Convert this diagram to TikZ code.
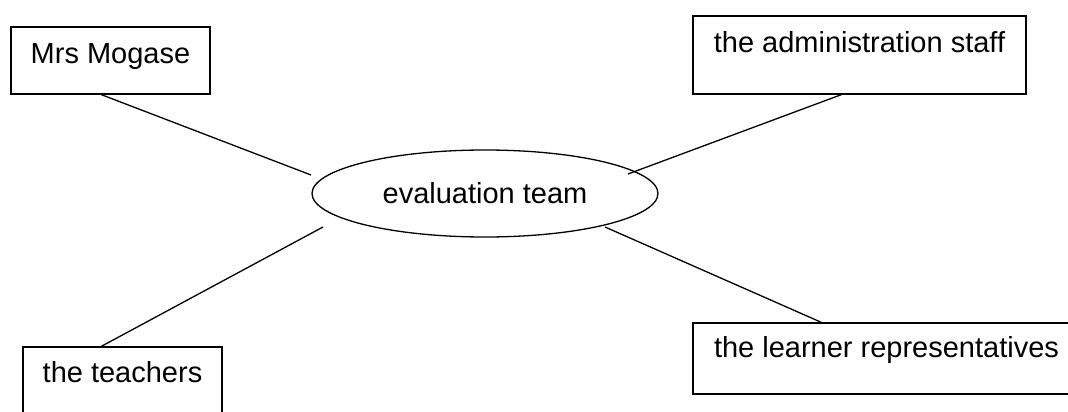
\documentclass[tikz,border=0pt]{standalone}
\usepackage{fontspec}
\setmainfont{Liberation Sans}
\usetikzlibrary{shapes.geometric,calc}
\tikzset{
  box/.style={draw, line width=1.3pt, rectangle, inner sep=0pt},
  lbl/.style={anchor=base, inner sep=0pt, font=\fontsize{29}{34}\selectfont},
  conn/.style={line width=1.3pt},
  ell/.style={draw, line width=1.3pt, ellipse, minimum width=346pt, minimum height=87pt, inner sep=0pt, font=\fontsize{29}{34}\selectfont}
}
\begin{document}
\begin{tikzpicture}[x=1pt,y=-1pt]
\useasboundingbox (0,0) rectangle (1068,412);
\clip (0,0) rectangle (1068,412);
\fill[white] (0,0) rectangle (1068,412);

\node[box, minimum width=199pt, minimum height=67pt] (mm) at (110.5,60.5) {};
\node[lbl] (mmt) at ($(mm.north)+(0,37)$) {Mrs Mogase};

\node[box, minimum width=333pt, minimum height=78pt] (adm) at (859.5,55) {};
\node[lbl] (admt) at ($(adm.north)+(0,37)$) {the administration staff};

\node[box, minimum width=199pt, minimum height=72pt] (tea) at (122.5,383) {};
\node[lbl] (teat) at ($(tea.north)+(0,36)$) {the teachers};

\node[box, minimum width=387pt, minimum height=71pt] (lrn) at (886.5,358.5) {};
\node[lbl] (lrnt) at ($(lrn.north)+(0,35)$) {the learner representatives};

\node[ell] (ev) at (485,193.5) {};
\node[lbl] (evt) at ($(ev.center)+(0,10)$) {evaluation team};

\coordinate (e1) at ($(ev.center)+(-174,-18.5)$);
\coordinate (e2) at ($(ev.center)+(143,-19.5)$);
\coordinate (e3) at ($(ev.center)+(-162,33.5)$);
\coordinate (e4) at ($(ev.center)+(120,33.5)$);

\draw[conn] ($(mm.south west)+(91,0)$) -- (e1);
\draw[conn] ($(adm.south west)+(149,0)$) -- (e2);
\draw[conn] ($(tea.north west)+(79,0)$) -- (e3);
\draw[conn] ($(lrn.north west)+(129,0)$) -- (e4);
\end{tikzpicture}
\end{document}
